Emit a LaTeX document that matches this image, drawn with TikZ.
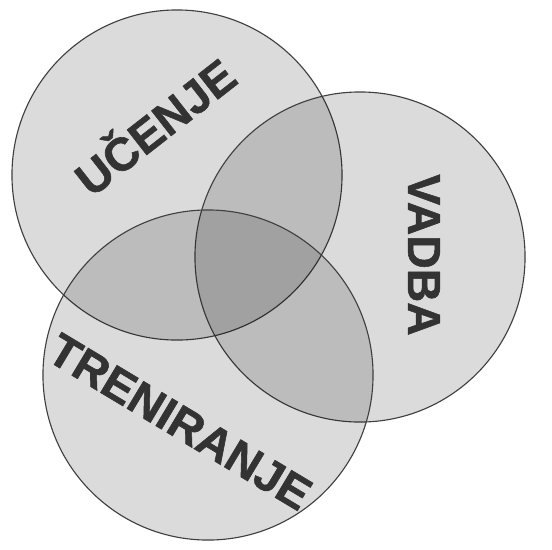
\documentclass[tikz,border=0pt]{standalone}
\usepackage{fontspec}
\setmainfont{Liberation Sans}
\usetikzlibrary{positioning}

\begin{document}
\begin{tikzpicture}[x=0.025cm, y=-0.025cm]


\tikzstyle{circle_style} = [circle, draw=black!75, line width=0.8, fill=black, fill opacity=0.14, minimum size=8.25cm, inner sep=0]
\tikzstyle{label_style} = [text=black!80, font=\bfseries\addfontfeature{FakeBold=1.2}\fontsize{33}{33}\selectfont, inner sep=0]

\useasboundingbox[fill=white] (0,0) rectangle (552,549);

\node[circle_style] (c0) at (177, 175) {};
\node[circle_style] (c1) at (360, 257) {};
\node[circle_style] (c2) at (208, 375) {};

\node[label_style, rotate=38] (l0) at (153, 124) {UČENJE};
\node[label_style, rotate=-90] (l1) at (424, 255) {VADBA};
\node[label_style, rotate=-31] (l2) at (180, 422) {TRENIRANJE};



\end{tikzpicture}
\end{document}
